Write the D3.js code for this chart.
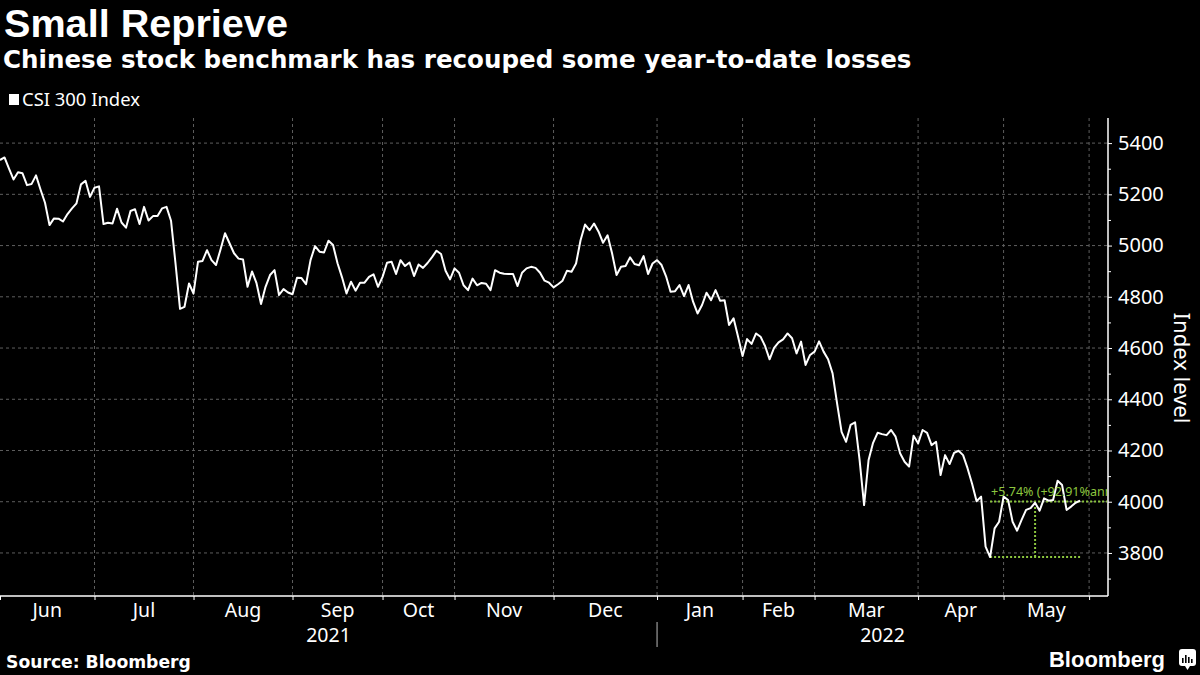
<!DOCTYPE html>
<html><head><meta charset="utf-8">
<script src="https://cdn.jsdelivr.net/npm/d3@7"></script>
<style>body{margin:0;background:#000;} svg{display:block;}</style>
</head><body>
<svg id="c" width="1200" height="675"></svg>
<script>
// ---- DATA (CSI 300 daily close, trading-day index 0 = 1 Jun 2021) ----
const csi300 = [
5334,5344,5300,5258,5286,5282,5236,5240,5274,5219,
5167,5080,5106,5105,5094,5123,5145,5165,5239,5253,
5190,5226,5231,5084,5089,5086,5144,5090,5070,5135,
5142,5084,5151,5098,5115,5115,5145,5151,5097,4930,
4753,4761,4852,4813,4937,4940,4982,4943,4924,4985,
5048,5009,4970,4949,4946,4839,4899,4853,4772,4839,
4885,4904,4807,4830,4817,4810,4874,4873,4849,4943,
4998,4976,4973,5019,5002,4931,4876,4813,4859,4824,
4855,4855,4878,4888,4839,4878,4933,4937,4889,4943,
4920,4934,4881,4926,4913,4932,4955,4980,4967,4902,
4868,4911,4894,4845,4826,4871,4845,4854,4851,4826,
4904,4894,4890,4889,4889,4842,4894,4911,4917,4913,
4894,4863,4855,4837,4849,4863,4902,4898,4930,5021,
5082,5060,5086,5054,5011,5040,4970,4885,4917,4920,
4954,4928,4923,4959,4889,4930,4943,4924,4880,4820,
4822,4846,4803,4846,4781,4735,4768,4816,4787,4826,
4785,4787,4690,4716,4644,4569,4635,4616,4657,4644,
4608,4556,4601,4622,4634,4657,4638,4579,4625,4534,
4573,4586,4626,4586,4556,4501,4384,4273,4234,4300,
4310,4163,3987,4163,4230,4269,4264,4260,4280,4254,
4189,4156,4137,4258,4228,4280,4269,4221,4234,4104,
4182,4147,4191,4199,4182,4130,4070,4002,4020,3825,
3784,3896,3922,4020,4007,3922,3887,3929,3968,3975,
3996,3965,4013,4004,4007,4082,4065,3968,3981,3996,
4004
];
// first trading-day index of each month (Jun 2021 .. Jun 2022)
const monthStarts = [0,21,43,65,85,101,123,146,165,181,204,223,242];
const monthLabels = ["Jun","Jul","Aug","Sep","Oct","Nov","Dec","Jan","Feb","Mar","Apr","May"];
const years = ["2021","2022"];
const yearBreak = 146;
const yMajor = [3800,4000,4200,4400,4600,4800,5000,5200,5400];
const yMinor = [3700,3900,4100,4300,4500,4700,4900,5100,5300];
// measurement annotation
const measLowIdx = 220, measLow = 3784, measHigh = 4001, measMidIdx = 230, measMidVal = 3985, measEndIdx = 240;
const measText = "+5.74% (+92.91%ann)";

// ---- LAYOUT ----
const svg = d3.select("#c");
const L = 0, R = 1108, T = 118, B = 596;
const x = d3.scaleLinear().domain([0, 246.2]).range([L, R]);
const y = d3.scaleLinear().domain([3632, 5498]).range([B, T]);
const white = "#ffffff", grid = "#5e5e5e", green = "#8cc63f";

svg.append("rect").attr("width",1200).attr("height",675).attr("fill","#000");

function fit(sel, w){
  const l = sel.node().getComputedTextLength();
  sel.attr("font-size", parseFloat(sel.attr("font-size")) * w / l);
}

// titles
const t1 = svg.append("text").attr("x",4).attr("y",37).attr("fill",white)
  .attr("font-family","Liberation Sans, Arial, sans-serif").attr("font-weight","bold")
  .attr("font-size",38).text("Small Reprieve");
fit(t1, 284);
const t2 = svg.append("text").attr("x",3).attr("y",68).attr("fill",white)
  .attr("font-family","DejaVu Sans, sans-serif").attr("font-weight","bold")
  .attr("font-size",22).text("Chinese stock benchmark has recouped some year-to-date losses");
fit(t2, 909);

// legend
svg.append("rect").attr("x",9).attr("y",94).attr("width",10).attr("height",11).attr("fill",white);
const lg = svg.append("text").attr("x",22).attr("y",106).attr("fill",white)
  .attr("font-family","Noto Sans, sans-serif").attr("font-size",16).text("CSI 300 Index");
fit(lg, 118);

// grid
const g = svg.append("g");
g.selectAll(".hg").data(yMajor).join("line")
  .attr("x1",L).attr("x2",R).attr("y1",d=>y(d)).attr("y2",d=>y(d))
  .attr("stroke",grid).attr("stroke-width",1).attr("stroke-dasharray","3,3");
g.selectAll(".vg").data(monthStarts.slice(1)).join("line")
  .attr("x1",d=>x(d)).attr("x2",d=>x(d)).attr("y1",T).attr("y2",B)
  .attr("stroke",grid).attr("stroke-width",1).attr("stroke-dasharray","3,3");

// clip
svg.append("clipPath").attr("id","clip").append("rect")
  .attr("x",L).attr("y",T).attr("width",R-L-1).attr("height",B-T);
const plot = svg.append("g").attr("clip-path","url(#clip)");

// annotation (green measurement)
const ann = plot.append("g").attr("stroke",green).attr("stroke-width",2).attr("stroke-dasharray","2,2");
ann.append("line").attr("x1",x(measLowIdx)).attr("x2",R).attr("y1",y(measHigh)).attr("y2",y(measHigh));
ann.append("line").attr("x1",x(measLowIdx)).attr("x2",x(measEndIdx)).attr("y1",y(measLow)).attr("y2",y(measLow));
ann.append("line").attr("x1",x(measMidIdx)).attr("x2",x(measMidIdx)).attr("y1",y(measLow)).attr("y2",y(measMidVal));

// line
plot.append("path").datum(csi300)
  .attr("d", d3.line().x((d,i)=>x(i)).y(d=>y(d)))
  .attr("fill","none").attr("stroke",white).attr("stroke-width",2)
  .attr("stroke-linejoin","round");

plot.append("text").attr("x",x(measLowIdx)+1).attr("y",y(measHigh)-5)
  .attr("fill",green).attr("font-family","Noto Sans, sans-serif").attr("font-size",12.5)
  .text(measText);

// axes
svg.append("line").attr("x1",L).attr("x2",R).attr("y1",B).attr("y2",B).attr("stroke",white).attr("stroke-width",1.5);
svg.append("line").attr("x1",R).attr("x2",R).attr("y1",T).attr("y2",B).attr("stroke",white).attr("stroke-width",1.5);

const xAxis = d3.axisBottom(x).tickValues(monthStarts).tickSize(4).tickFormat("");
svg.append("g").attr("transform",`translate(0,${B})`).call(xAxis)
  .call(a=>a.select(".domain").remove())
  .call(a=>a.selectAll("line").attr("stroke",white));

const mid = monthLabels.map((m,i)=>({m, c:(monthStarts[i]+monthStarts[i+1])/2}));
svg.selectAll(".ml").data(mid).join("text")
  .attr("x",d=>x(d.c)).attr("y",617).attr("text-anchor","middle")
  .attr("fill",white).attr("font-family","Noto Sans, sans-serif").attr("font-size",19.5)
  .text(d=>d.m);

const yearCenters = [ (0+yearBreak)/2, (yearBreak+x.domain()[1])/2 ];
svg.selectAll(".yl").data(years).join("text")
  .attr("x",(d,i)=>x(yearCenters[i])).attr("y",642).attr("text-anchor","middle")
  .attr("fill",white).attr("font-family","Noto Sans, sans-serif").attr("font-size",19.5)
  .text(d=>d);
svg.append("line").attr("x1",x(yearBreak)).attr("x2",x(yearBreak)).attr("y1",622).attr("y2",647)
  .attr("stroke","#bbbbbb").attr("stroke-width",1);

const yAxisMajor = d3.axisRight(y).tickValues(yMajor).tickSize(4).tickPadding(6).tickFormat(d3.format("d"));
svg.append("g").attr("transform",`translate(${R},0)`).call(yAxisMajor)
  .call(a=>a.select(".domain").remove())
  .call(a=>a.selectAll("line").attr("stroke",white))
  .call(a=>a.selectAll("text").attr("fill",white).attr("font-family","Noto Sans, sans-serif").attr("font-size",20));
const yAxisMinor = d3.axisRight(y).tickValues(yMinor).tickSize(3).tickFormat("");
svg.append("g").attr("transform",`translate(${R},0)`).call(yAxisMinor)
  .call(a=>a.select(".domain").remove())
  .call(a=>a.selectAll("line").attr("stroke",white));

svg.append("text").attr("transform","translate(1174,368) rotate(90)")
  .attr("text-anchor","middle").attr("fill",white)
  .attr("font-family","Noto Sans, sans-serif").attr("font-size",22).text("Index level");

// footer
const src = svg.append("text").attr("x",6).attr("y",668).attr("fill",white)
  .attr("font-family","DejaVu Sans, sans-serif").attr("font-weight","bold")
  .attr("font-size",16).text("Source: Bloomberg");
fit(src, 185);
const bb = svg.append("text").attr("x",1049).attr("y",667).attr("fill",white)
  .attr("font-family","Liberation Sans, Arial, sans-serif").attr("font-weight","bold")
  .attr("font-size",22).text("Bloomberg");
fit(bb, 116);
// logo icon
const ic = svg.append("g").attr("transform","translate(1179,649)");
ic.append("rect").attr("width",17).attr("height",17).attr("rx",3).attr("fill",white);
ic.append("path").attr("d","M6,17 L8.5,21 L11,17 Z").attr("fill",white);
[[4,9],[7,6],[10,8],[13,10]].forEach(([bx,by])=>ic.append("rect").attr("x",bx-1).attr("y",by).attr("width",1.6).attr("height",14-by).attr("fill","#000"));
</script>
</body></html>
